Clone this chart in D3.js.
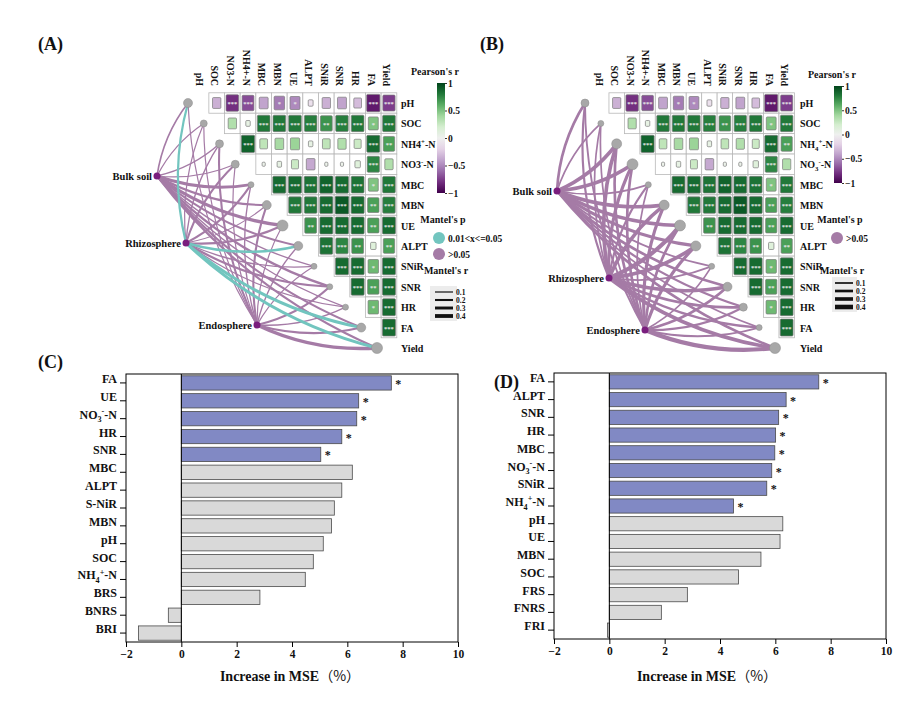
<!DOCTYPE html>
<html><head><meta charset="utf-8">
<script src="https://cdn.jsdelivr.net/npm/d3@7"></script>
<style>
body{margin:0;background:#fff}
text{font-family:"Liberation Serif","Times New Roman",serif;font-weight:bold;fill:#111}
</style>
</head><body>
<svg id="c" width="923" height="719"></svg>
<script>
// ---------------- DATA ----------------
const colLabels = ["pH","SOC","NO3-N","NH4+-N","MBC","MBN","UE","ALPT","SNiR","SNR","HR","FA","Yield"];
const rowLabelsA = ["pH","SOC","NH4^+-N","NO3^--N","MBC","MBN","UE","ALPT","SNiR","SNR","HR","FA","Yield"];
const rowLabelsB = ["pH","SOC","NH_4^+-N","NO_3^--N","MBC","MBN","UE","ALPT","SNiR","SNR","HR","FA","Yield"];
// Pearson's r, upper triangle: row i holds columns i+1 .. 12
const corrRows = [
  [-0.35,-0.8,-0.7,-0.4,-0.55,-0.5,-0.12,-0.35,-0.4,-0.3,-0.88,-0.75],
  [0.35,0.1,0.8,0.8,0.8,0.78,0.7,0.78,0.8,0.5,0.8],
  [0.88,0.3,0.38,0.42,0.1,0.3,0.35,0.25,0.85,0.65],
  [0.05,0.1,0.25,-0.38,0.05,0.05,0.15,0.75,0.35],
  [0.85,0.85,0.82,0.88,0.85,0.82,0.5,0.8],
  [0.8,0.8,0.85,0.92,0.85,0.65,0.78],
  [0.7,0.85,0.85,0.85,0.65,0.85],
  [0.82,0.75,0.7,0.15,0.65],
  [0.85,0.85,0.55,0.85],
  [0.85,0.65,0.85],
  [0.55,0.85],
  [0.85]
];
const sigRows = [
  ["","***","***","","*","*","","","","","***","***"],
  ["","","***","***","***","***","**","***","***","*","***"],
  ["***","","","","","","","","***","**"],
  ["","","","","","","","***",""],
  ["***","***","***","***","***","***","*","***"],
  ["***","***","***","***","***","**","***"],
  ["**","***","***","***","**","***"],
  ["***","***","**","","**"],
  ["***","***","*","***"],
  ["***","**","***"],
  ["*","***"],
  ["***"]
];
const mantelNodes = ["Bulk soil","Rhizosphere","Endosphere"];
// Mantel's r from each node to each variable (pH ... Yield)
const mantelRA = [
  [0.15,0.1,0.12,0.1,0.3,0.2,0.35,0.2,0.12,0.25,0.1,0.2,0.2],
  [0.22,0.1,0.12,0.2,0.2,0.1,0.22,0.25,0.12,0.22,0.1,0.3,0.3],
  [0.1,0.1,0.2,0.1,0.12,0.2,0.1,0.12,0.1,0.22,0.12,0.2,0.35]
];
// Mantel's p class: 1 = 0.01<x<=0.05, 0 = >0.05
const mantelPA = [
  [0,0,0,0,0,0,0,0,0,0,0,0,0],
  [1,0,0,0,0,0,0,1,0,0,0,1,1],
  [0,0,0,0,0,0,0,0,0,0,0,0,0]
];
const mantelRB = [
  [0.2,0.1,0.3,0.3,0.1,0.3,0.3,0.25,0.1,0.2,0.15,0.1,0.2],
  [0.15,0.1,0.3,0.25,0.15,0.3,0.35,0.3,0.12,0.3,0.2,0.15,0.3],
  [0.12,0.1,0.2,0.2,0.1,0.25,0.2,0.25,0.1,0.2,0.15,0.12,0.35]
];
const mantelPB = [
  [0,0,0,0,0,0,0,0,0,0,0,0,0],
  [0,0,0,0,0,0,0,0,0,0,0,0,0],
  [0,0,0,0,0,0,0,0,0,0,0,0,0]
];
const nodeDotA = [4.5,3.5,4,4,3,4.5,5.5,4.5,3,3,3,4.5,5.5];
const nodeDotB = [4,3,5,5.5,3,5,5.5,5,3,4.5,4,3,5.5];
const pearsonTicks = [1,0.5,0,-0.5,-1];
const mantelRTicks = [0.1,0.2,0.3,0.4];

const catC = ["FA","UE","NO_3^--N","HR","SNR","MBC","ALPT","S-NiR","MBN","pH","SOC","NH_4^+-N","BRS","BNRS","BRI"];
const valC = [7.59,6.41,6.34,5.80,5.04,6.18,5.80,5.53,5.43,5.13,4.77,4.48,2.84,-0.47,-1.55];
const sigC = [1,1,1,1,1,0,0,0,0,0,0,0,0,0,0];
const catD = ["FA","ALPT","SNR","HR","MBC","NO_3^--N","SNiR","NH_4^+-N","pH","UE","MBN","SOC","FRS","FNRS","FRI"];
const valD = [7.57,6.39,6.12,6.01,5.98,5.87,5.69,4.49,6.27,6.17,5.48,4.67,2.82,1.88,-0.07];
const sigD = [1,1,1,1,1,1,1,1,0,0,0,0,0,0,0];
const xTicks = [-2,0,2,4,6,8,10];

// ---------------- HELPERS ----------------
const svg = d3.select("#c");
const PURPLE_LINE = "#a57ba6", TEAL = "#72c5bf", NODE = "#7a1e7e";

function rich(t, s, fs){
  t.text(null);
  const parts = s.split(/(_.|\^.)/).filter(p => p !== "");
  let off = 0;
  parts.forEach(p => {
    let target = 0, size = fs, txt = p;
    if (p.length === 2 && p[0] === "_") { target = fs*0.3; size = fs*0.68; txt = p[1]; }
    else if (p.length === 2 && p[0] === "^") { target = -fs*0.38; size = fs*0.68; txt = p[1]; }
    t.append("tspan").attr("dy", target - off).attr("font-size", size).text(txt);
    off = target;
  });
}

function heatPanel(cfg){
  const g = svg.append("g");
  const n = colLabels.length;
  const x = d3.scaleBand().domain(d3.range(n)).range(cfg.colX);
  const y = d3.scaleBand().domain(d3.range(n)).range(cfg.rowY);
  const color = d3.scaleSequential(d3.interpolatePRGn).domain([-1,1]);
  const cw = x.bandwidth(), ch = y.bandwidth();
  const dotX = d3.scaleLinear().domain([0, n-1]).range(cfg.dotX);
  const wScale = d3.scaleLinear().domain([0.1,0.4]).range(cfg.lw);

  // mantel curves
  const links = [];
  mantelNodes.forEach((nm, k) => {
    for (let j = 0; j < n; j++) links.push({k, j, r: cfg.mr[k][j], p: cfg.mp[k][j]});
  });
  links.sort((a,b) => a.p - b.p);
  g.selectAll("path.link").data(links).join("path").attr("class","link")
    .attr("fill","none")
    .attr("stroke", d => d.p ? TEAL : PURPLE_LINE)
    .attr("stroke-width", d => wScale(d.r))
    .attr("stroke-linecap","round")
    .attr("d", d => {
      const [x0,y0] = cfg.nodes[d.k];
      const x1 = dotX(d.j), y1 = y(d.j) + ch/2;
      const dx = x1-x0, dy = y1-y0, L = Math.hypot(dx,dy);
      let nx = -dy/L, ny = dx/L;
      if (-nx + ny < 0) { nx = -nx; ny = -ny; }
      const cx = (x0+x1)/2 + nx*0.13*L, cy = (y0+y1)/2 + ny*0.13*L;
      const p = d3.path(); p.moveTo(x0,y0); p.quadraticCurveTo(cx,cy,x1,y1); return p.toString();
    });

  // grey variable dots
  g.selectAll("circle.vd").data(d3.range(n)).join("circle").attr("class","vd")
    .attr("cx", j => dotX(j)).attr("cy", j => y(j)+ch/2).attr("r", j => cfg.dot[j])
    .attr("fill","#a8a8a8").attr("stroke","#8a8a8a").attr("stroke-width",0.5);

  // nodes
  mantelNodes.forEach((nm,k) => {
    const [nx,ny] = cfg.nodes[k];
    g.append("circle").attr("cx",nx).attr("cy",ny).attr("r",3.5).attr("fill",NODE);
    g.append("text").attr("x",nx-5).attr("y",ny).attr("dy","0.35em").attr("text-anchor","end")
      .attr("font-size",10.5).text(nm);
  });

  // heatmap cells
  const cells = [];
  corrRows.forEach((row,i) => row.forEach((v,jj) => cells.push({i, j: i+1+jj, v, s: sigRows[i][jj]})));
  const cg = g.append("g");
  cg.selectAll("rect.bg").data(cells).join("rect").attr("class","bg")
    .attr("x", d => x(d.j)).attr("y", d => y(d.i)).attr("width", cw).attr("height", ch)
    .attr("fill","#fff").attr("stroke","#b8b8b8").attr("stroke-width",0.8);
  cg.selectAll("rect.fg").data(cells).join("rect").attr("class","fg")
    .attr("x", d => x(d.j) + cw/2 - cw*0.45*Math.sqrt(Math.abs(d.v)))
    .attr("y", d => y(d.i) + ch/2 - ch*0.45*Math.sqrt(Math.abs(d.v)))
    .attr("width", d => cw*0.9*Math.sqrt(Math.abs(d.v)))
    .attr("height", d => ch*0.9*Math.sqrt(Math.abs(d.v)))
    .attr("rx",1)
    .attr("fill", d => color(d.v)).attr("stroke","#7a7a7a").attr("stroke-width",0.7);
  cg.selectAll("text.st").data(cells.filter(d => d.s)).join("text").attr("class","st")
    .attr("x", d => x(d.j)+cw/2).attr("y", d => y(d.i)+ch/2+3.2)
    .attr("text-anchor","middle").attr("font-size",6.5).style("fill","#e6e6e6").text(d => d.s);

  // column labels
  g.selectAll("text.cl").data(colLabels).join("text").attr("class","cl")
    .attr("transform",(d,j) => `translate(${x(j)+cw/2-2},${cfg.colLabelY}) rotate(90)`)
    .attr("text-anchor","end").attr("dy","0.35em").attr("font-size",10).text(d => d);
  // row labels
  g.selectAll("text.rl").data(cfg.rowLabels).join("text").attr("class","rl")
    .attr("x", cfg.rowLabelX).attr("y",(d,i) => y(i)+ch/2+4).attr("font-size",10)
    .each(function(d){ rich(d3.select(this), d, 10); });

  // Pearson legend
  const L = cfg.leg;
  const gid = "grad"+cfg.id;
  const grad = svg.append("defs").append("linearGradient").attr("id",gid)
    .attr("x1",0).attr("y1",1).attr("x2",0).attr("y2",0);
  d3.range(0,1.01,0.1).forEach(t => grad.append("stop").attr("offset",t).attr("stop-color",d3.interpolatePRGn(t)));
  g.append("text").attr("x",L.cbX-2).attr("y",L.cbY0-8).attr("text-anchor","middle").attr("font-size",10).text("Pearson's r");
  g.append("rect").attr("x",L.cbX).attr("y",L.cbY0).attr("width",8).attr("height",L.cbY1-L.cbY0).attr("fill",`url(#${gid})`);
  const cs = d3.scaleLinear().domain([-1,1]).range([L.cbY1,L.cbY0]);
  const ax = g.append("g").attr("transform",`translate(${L.cbX+8},0)`)
    .call(d3.axisRight(cs).tickValues(pearsonTicks).tickSize(2).tickPadding(1).tickFormat(d3.format("")));
  ax.select(".domain").remove();
  ax.selectAll("text").attr("font-size",9.5).style("font-family","Liberation Serif").style("font-weight","bold");
  ax.selectAll("line").attr("stroke","#333");

  // Mantel's p legend
  g.append("text").attr("x",L.mpX).attr("y",L.mpY).attr("text-anchor","middle").attr("font-size",10).text("Mantel's p");
  L.pItems.forEach((it,i) => {
    const yy = L.mpY + 15 + i*16;
    g.append("circle").attr("cx",L.pcX).attr("cy",yy).attr("r",6).attr("fill",it.c);
    g.append("text").attr("x",L.pcX+9).attr("y",yy+3.5).attr("font-size",9.5).text(it.t);
  });
  // Mantel's r legend
  g.append("text").attr("x",L.mrX).attr("y",L.mrY).attr("text-anchor","middle").attr("font-size",10).text("Mantel's r");
  g.append("rect").attr("x",L.box[0]).attr("y",L.box[1]).attr("width",L.box[2]).attr("height",L.box[3]).attr("fill","#ececec");
  mantelRTicks.forEach((v,i) => {
    const yy = L.lineY0 + i*L.lineStep;
    g.append("line").attr("x1",L.lx[0]).attr("x2",L.lx[1]).attr("y1",yy).attr("y2",yy)
      .attr("stroke","#111").attr("stroke-width",wScale(v));
    g.append("text").attr("x",L.lx[1]+3).attr("y",yy+2.8).attr("font-size",7.5).text(v.toFixed(1));
  });
}

heatPanel({
  id:"A", colX:[193.2,396.8], rowY:[92.8,358.2], dotX:[188,377],
  nodes:[[157,176],[186,243],[257,325]], mr:mantelRA, mp:mantelPA, dot:nodeDotA,
  lw:[1.2,3.8], rowLabels:rowLabelsA, rowLabelX:401, colLabelY:86,
  leg:{cbX:437,cbY0:83,cbY1:193, mpX:443,mpY:223, pcX:439,
       pItems:[{c:TEAL,t:"0.01<x<=0.05"},{c:PURPLE_LINE,t:">0.05"}],
       mrX:446,mrY:274, box:[430,286,27,35], lx:[435,453], lineY0:292, lineStep:8}
});
heatPanel({
  id:"B", colX:[593.5,794.4], rowY:[92.8,358.2], dotX:[585,775],
  nodes:[[557,191],[609,278],[645,330]], mr:mantelRB, mp:mantelPB, dot:nodeDotB,
  lw:[1.7,4.6], rowLabels:rowLabelsB, rowLabelX:800, colLabelY:86,
  leg:{cbX:834,cbY0:86,cbY1:183, mpX:840,mpY:223, pcX:837,
       pItems:[{c:PURPLE_LINE,t:">0.05"}],
       mrX:842,mrY:274, box:[832,277,25,35], lx:[835,853], lineY0:283, lineStep:8}
});

// ---------------- BAR PANELS ----------------
function barPanel(cfg){
  const g = svg.append("g");
  const x = d3.scaleLinear().domain([-2,10]).range([cfg.left,cfg.right]);
  const y = d3.scaleBand().domain(d3.range(cfg.cats.length)).range([cfg.top,cfg.bottom]).paddingInner(0.2).paddingOuter(0.1);
  g.selectAll("rect.bar").data(cfg.vals).join("rect").attr("class","bar")
    .attr("x", v => x(Math.min(0,v))).attr("y",(v,i) => y(i))
    .attr("width", v => Math.abs(x(v)-x(0))).attr("height", y.bandwidth())
    .attr("fill",(v,i) => cfg.sig[i] ? "#8189c4" : "#d9d9d9")
    .attr("stroke","#4a4a4a").attr("stroke-width",0.8);
  g.selectAll("text.star").data(cfg.vals.map((v,i)=>({v,i})).filter(d => cfg.sig[d.i])).join("text").attr("class","star")
    .attr("x", d => x(d.v)+4).attr("y", d => y(d.i)+y.bandwidth()/2+5).attr("font-size",12).attr("font-weight","normal").text("*");
  g.append("line").attr("x1",x(0)).attr("x2",x(0)).attr("y1",cfg.top).attr("y2",cfg.bottom).attr("stroke","#000").attr("stroke-width",1);
  g.append("rect").attr("x",cfg.left).attr("y",cfg.top).attr("width",cfg.right-cfg.left).attr("height",cfg.bottom-cfg.top)
    .attr("fill","none").attr("stroke","#000").attr("stroke-width",1);
  const xa = g.append("g").attr("transform",`translate(0,${cfg.bottom})`)
    .call(d3.axisBottom(x).tickValues(xTicks).tickSize(5).tickPadding(3).tickFormat(d3.format("d")));
  xa.select(".domain").remove();
  xa.selectAll("text").attr("font-size",11.5).style("font-family","Liberation Serif").style("font-weight","bold").style("fill","#111");
  const ya = g.append("g").attr("transform",`translate(${cfg.left},0)`)
    .call(d3.axisLeft(y).tickSize(6).tickPadding(3));
  ya.select(".domain").remove();
  ya.selectAll("text").attr("font-size",12).style("font-family","Liberation Serif").style("font-weight","bold").style("fill","#111")
    .each(function(i){ rich(d3.select(this), cfg.cats[i], 12); });
  const t = g.append("text").attr("x",cfg.titleX).attr("y",681).attr("text-anchor","middle").attr("font-size",14);
  t.append("tspan").text("Increase in MSE");
  t.append("tspan").style("font-family","'Noto Sans CJK SC'").style("font-weight","normal").text("（%）");
}
barPanel({left:126,right:458,top:374,bottom:642,cats:catC,vals:valC,sig:sigC,titleX:290});
barPanel({left:554,right:886,top:373,bottom:639,cats:catD,vals:valD,sig:sigD,titleX:707});

// panel labels
[["(A)",38,50],["(B)",480,50],["(C)",38,368],["(D)",494,388]].forEach(([t,x,y]) =>
  svg.append("text").attr("x",x).attr("y",y).attr("font-size",18).text(t));
</script>
</body></html>
